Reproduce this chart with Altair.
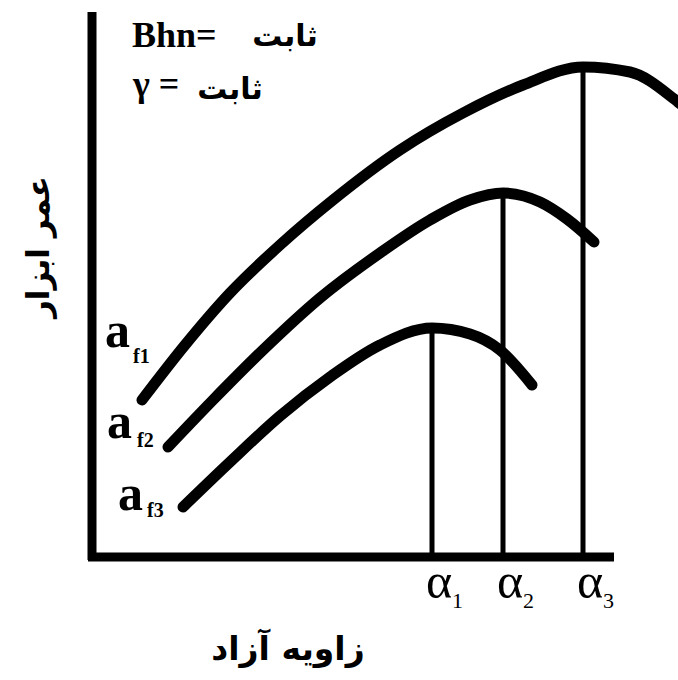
import altair as alt
import pandas as pd

# Tool life vs. free (clearance) angle, three feed rates; arbitrary units
f1_angle = [50, 93, 138, 188, 241, 308, 371, 431, 491, 538, 586, 608]
f1_life = [157, 212, 264, 312, 357, 407, 444, 472, 490, 485, 455, 437]
f2_angle = [76, 121, 171, 228, 288, 338, 378, 411, 448, 475, 502]
f2_life = [110, 157, 207, 259, 304, 337, 357, 364, 355, 338, 315]
f3_angle = [91, 138, 188, 238, 288, 340, 378, 408, 440]
f3_life = [50, 95, 141, 180, 212, 229, 223, 207, 172]

curve_names = ["f1", "f2", "f3"]
alpha_names = ["1", "2", "3"]

# axis extents
x_axis_start, x_axis_end = -4, 522
y_axis_start, y_axis_end = -3, 545

X_DOMAIN = [-92, 586]
Y_DOMAIN = [-123, 557]

rows = []
for name, xs, ys in zip(curve_names, [f1_angle, f2_angle, f3_angle],
                        [f1_life, f2_life, f3_life]):
    for i, (a, v) in enumerate(zip(xs, ys)):
        rows.append({"curve": name, "x": a, "y": v, "i": i})
curves = pd.DataFrame(rows)

# optimum angle of each curve = the point of maximum tool life
peaks = (curves.loc[curves.groupby("curve")["y"].idxmax()]
         .sort_values("x").reset_index(drop=True))
peaks["y0"] = 0
peaks["alpha"] = "α"
peaks["sub"] = alpha_names

# curve labels sit at the lower-left start of each curve
starts = curves[curves["i"] == 0].reset_index(drop=True)
starts["a"] = "a"

xsc = alt.Scale(domain=X_DOMAIN, nice=False, zero=False)
ysc = alt.Scale(domain=Y_DOMAIN, nice=False, zero=False)


def X(field="x"):
    return alt.X(f"{field}:Q", scale=xsc, axis=None)


def Y(field="y"):
    return alt.Y(f"{field}:Q", scale=ysc, axis=None)


axes_df = pd.DataFrame([
    {"x": x_axis_start, "x2": x_axis_end, "y": 0, "y2": 0},
    {"x": 0, "x2": 0, "y": y_axis_start, "y2": y_axis_end},
])
axes = alt.Chart(axes_df).mark_rule(color="black", strokeWidth=9).encode(
    x=X(), x2="x2:Q", y=Y(), y2="y2:Q")

lines = alt.Chart(curves).mark_line(
    color="black", strokeWidth=11, strokeCap="round", strokeJoin="round",
    interpolate="monotone", clip=True
).encode(x=X(), y=Y(), detail="curve:N", order="i:Q")

drops = alt.Chart(peaks).mark_rule(color="black", strokeWidth=5).encode(
    x=X(), y=Y("y0"), y2="y:Q")

alpha_txt = alt.Chart(peaks).mark_text(
    font="Liberation Serif", fontSize=50, align="left", baseline="alphabetic",
    dx=-6, color="black"
).encode(x=X(), y=alt.value(598), text="alpha:N")
alpha_sub = alt.Chart(peaks).mark_text(
    font="Liberation Serif", fontSize=22, align="left", baseline="alphabetic",
    dx=20, color="black"
).encode(x=X(), y=alt.value(608), text="sub:N")

# label offsets relative to each curve's start point
lab_dx = [-37, -61, -65]
lab_dy = [-53, -9, 3]
sub_dx = [-9, -31, -36]
sub_dy = [-37, 0, 10]
labels = []
for k, name in enumerate(curve_names):
    d = starts[starts["curve"] == name]
    labels.append(alt.Chart(d).mark_text(
        font="Liberation Serif", fontSize=50, fontWeight="bold", align="left",
        baseline="alphabetic", dx=lab_dx[k], dy=lab_dy[k], color="black"
    ).encode(x=X(), y=Y(), text="a:N"))
    labels.append(alt.Chart(d).mark_text(
        font="Liberation Serif", fontSize=20, fontWeight="bold", align="left",
        baseline="alphabetic", dx=sub_dx[k], dy=sub_dy[k], color="black"
    ).encode(x=X(), y=Y(), text="curve:N"))

notes = pd.DataFrame([
    {"x": 40, "y": 510, "t": "Bhn="},
    {"x": 41, "y": 461, "t": "γ ="},
])
notes_ar = pd.DataFrame([
    {"x": 193, "y": 511, "t": "ثابت"},
    {"x": 138, "y": 458, "t": "ثابت"},
])
latin_notes = alt.Chart(notes).mark_text(
    font="Liberation Serif", fontSize=36, fontWeight="bold", align="left",
    baseline="alphabetic", color="black"
).encode(x=X(), y=Y(), text="t:N")
arabic_notes = alt.Chart(notes_ar).mark_text(
    font="DejaVu Sans", fontSize=30, fontWeight="bold", align="center",
    baseline="alphabetic", color="black"
).encode(x=X(), y=Y(), text="t:N")

titles = pd.DataFrame([
    {"x": 196, "y": -93, "t": "زاویه آزاد"},
    {"x": -52, "y": 310, "t": "عمر ابزار"},
])
x_title = alt.Chart(titles.iloc[[0]]).mark_text(
    font="DejaVu Sans", fontSize=33, fontWeight="bold", align="center",
    baseline="middle", color="black"
).encode(x=X(), y=Y(), text="t:N")
y_title = alt.Chart(titles.iloc[[1]]).mark_text(
    font="DejaVu Sans", fontSize=31, fontWeight="bold", align="center",
    baseline="middle", angle=270, color="black"
).encode(x=X(), y=Y(), text="t:N")

chart = alt.layer(
    axes, drops, lines, alpha_txt, alpha_sub, *labels,
    latin_notes, arabic_notes, x_title, y_title
).properties(
    width=678, height=680, padding=0, autosize=alt.AutoSizeParams(type="none"),
    background="white"
).configure_view(stroke=None)

chart.save("out.html", embed_options={"renderer": "svg", "actions": False})
